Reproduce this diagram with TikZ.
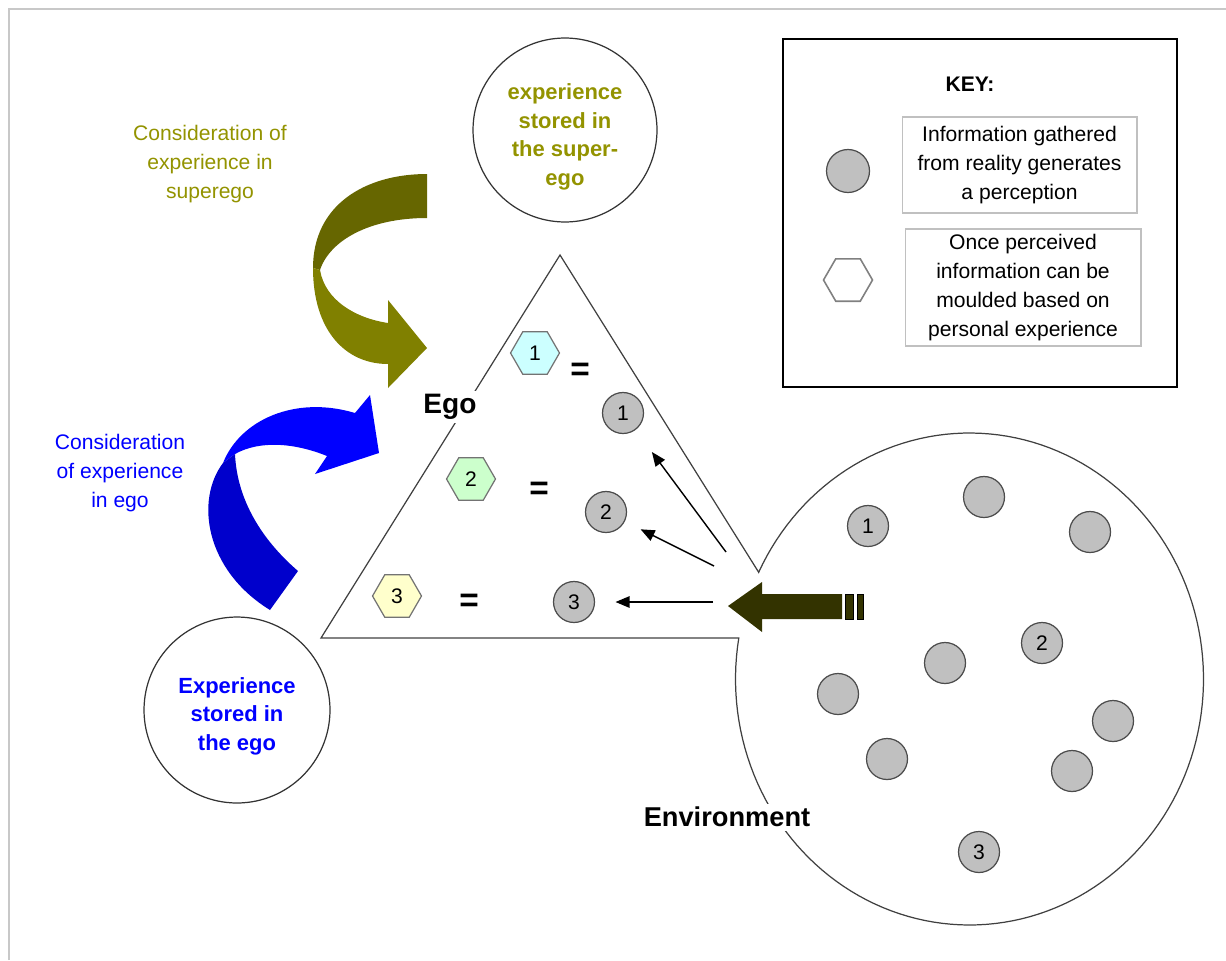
\documentclass[tikz,border=0pt]{standalone}
\usepackage{fontspec}
\setmainfont{Liberation Sans}
\usetikzlibrary{shapes.geometric,arrows.meta}
\definecolor{olivedark}{HTML}{666600}
\definecolor{olivemid}{HTML}{808000}
\definecolor{olivetext}{HTML}{939300}
\definecolor{bluedark}{HTML}{0000CC}
\definecolor{bluemain}{HTML}{0000FF}
\definecolor{dotgray}{HTML}{C0C0C0}
\definecolor{arrowdark}{HTML}{333300}
\definecolor{hexcyan}{HTML}{CCFFFF}
\definecolor{hexgreen}{HTML}{CCFFCC}
\definecolor{hexyellow}{HTML}{FFFFCC}
\definecolor{framegray}{HTML}{C8C8C8}
\definecolor{keygray}{HTML}{C0C0C0}
\begin{document}
\begin{tikzpicture}[x=0.02cm,y=-0.02cm,
  outline/.style={draw=black!75, line width=0.7pt},
  dot/.style={circle, draw=black!70, fill=dotgray, line width=0.7pt, minimum size=0.82cm, inner sep=0pt, font=\fontsize{12}{12}\selectfont},
  hexa/.style={regular polygon, regular polygon sides=6, draw=black!55, line width=0.7pt, minimum size=0.98cm, inner sep=0pt, font=\fontsize{12}{12}\selectfont},
  eqsign/.style={font=\bfseries\fontsize{19}{19}\selectfont, inner sep=0pt},
  bigcirc/.style={circle, draw=black!80, line width=0.7pt, inner sep=0pt},
  labeltext/.style={align=center, font=\fontsize{12}{16.3}\selectfont, inner sep=0pt},
  boldtext/.style={align=center, font=\bfseries\fontsize{12.5}{16.3}\selectfont, inner sep=0pt},
  keytext/.style={draw=keygray, line width=0.6pt, align=center, font=\fontsize{12}{16.5}\selectfont, inner sep=0pt},
  thinarrow/.style={draw=black, line width=0.8pt, -{Triangle[length=8pt,width=6.5pt]}}
]
\useasboundingbox (0,0) rectangle (1226,960);
% frame
\draw[framegray, line width=1.2pt] (9,960) -- (9,9) -- (1226,9);

% key box
\node[draw=black, line width=1.1pt, minimum width=7.88cm, minimum height=6.96cm, inner sep=0pt] (keybox) at (980,213) {};
\node[font=\bfseries\fontsize{12}{12}\selectfont, inner sep=0pt] (keytitle) at (970,84) {KEY:};
\node[dot, minimum size=0.86cm] (keydot) at (848,171) {};
\node[keytext, minimum width=4.7cm, minimum height=1.92cm] (keyinfo1) at (1019.5,165) {Information gathered\\from reality generates\\a perception};
\node[hexa, draw=black!50, fill=white, line width=0.9pt] (keyhex) at (848,280) {};
\node[keytext, minimum width=4.72cm, minimum height=2.34cm] (keyinfo2) at (1023,287.5) {Once perceived\\information can be\\moulded based on\\personal experience};

% triangle + environment outline
\draw[outline] (560,255) -- (758.5,572) -- plot[domain=205.7:549.6, samples=160] ({969.5+234*cos(\x)},{679+246*sin(\x)}) -- (321,638) -- cycle;

% superego and ego circles
\node[bigcirc, minimum size=3.68cm] (superego) at (565,130) {};
\node[boldtext, text=olivetext] (superegotext) at (565,137) {experience\\stored in\\the super-\\ego};
\node[bigcirc, minimum size=3.72cm] (egocirc) at (237,710) {};
\node[boldtext, text=bluemain] (egotext) at (237,716) {Experience\\stored in\\the ego};

% side labels
\node[labeltext, text=olivetext] (lblsuper) at (210,164) {Consideration of\\experience in\\superego};
\node[labeltext, text=bluemain] (lblego) at (120,473) {Consideration\\of experience\\in ego};

% olive curved arrow
\fill[olivedark] (427,174) .. controls (365,174) and (313,205) .. (313,268) -- (320,270) .. controls (330,240) and (370,218) .. (427,218) -- cycle;
\fill[olivemid] (313,268) .. controls (313,330) and (345,364) .. (388,364) -- (388,388) -- (427,348) -- (388,300) -- (388,323) .. controls (355,318) and (325,300) .. (320,270) -- cycle;

% blue curved arrow
\fill[bluemain] (223,463) .. controls (240,420) and (295,395) .. (355,413) -- (370,395) -- (379,453) -- (315,474) -- (327,456) .. controls (295,443) and (260,440) .. (235,454) -- cycle;
\fill[bluedark] (223,463) .. controls (195,500) and (205,570) .. (270,610) -- (298,571) .. controls (262,540) and (237,500) .. (235,454) -- cycle;

% labels on outline
\node[font=\bfseries\fontsize{16}{16}\selectfont, fill=white, inner sep=2pt] (egolabel) at (450,407) {Ego};
\node[font=\bfseries\fontsize{15.5}{16}\selectfont, fill=white, inner sep=2pt] (envlabel) at (727,817) {Environment};

% ego contents
\node[hexa, fill=hexcyan] (h1) at (535,353) {1};
\node[eqsign] (eq1) at (580,372) {=};
\node[dot] (c1) at (623,413) {1};
\node[hexa, fill=hexgreen] (h2) at (471,479) {2};
\node[eqsign] (eq2) at (539,491) {=};
\node[dot] (c2) at (606,512) {2};
\node[hexa, fill=hexyellow] (h3) at (397,596) {3};
\node[eqsign] (eq3) at (469,603) {=};
\node[dot] (c3) at (574,602) {3};

% fan arrows
\coordinate (s1) at (726,552);
\coordinate (s2) at (714,566);
\coordinate (s3) at (713,602);
\draw[thinarrow, shorten >=15.6pt] (s1) -- (c1);
\draw[thinarrow, shorten >=10pt] (s2) -- (c2);
\draw[thinarrow, shorten >=11.6pt] (s3) -- (c3);

% big dark arrow
\fill[arrowdark] (728,606) -- (762,582) -- (762,594) -- (842,594) -- (842,619) -- (762,619) -- (762,632) -- cycle;
\filldraw[fill=arrowdark, draw=black, line width=0.5pt] (845,594) rectangle (853,619);
\filldraw[fill=arrowdark, draw=black, line width=0.5pt] (857,594) rectangle (863,619);

% environment dots
\node[dot] (e1) at (868,526) {1};
\node[dot] (e2) at (984,497) {};
\node[dot] (e3) at (1090,532) {};
\node[dot] (e4) at (1042,643) {2};
\node[dot] (e5) at (945,663) {};
\node[dot] (e6) at (838,694) {};
\node[dot] (e7) at (1113,721) {};
\node[dot] (e8) at (887,759) {};
\node[dot] (e9) at (1072,771) {};
\node[dot] (e10) at (979,852) {3};
\end{tikzpicture}
\end{document}
